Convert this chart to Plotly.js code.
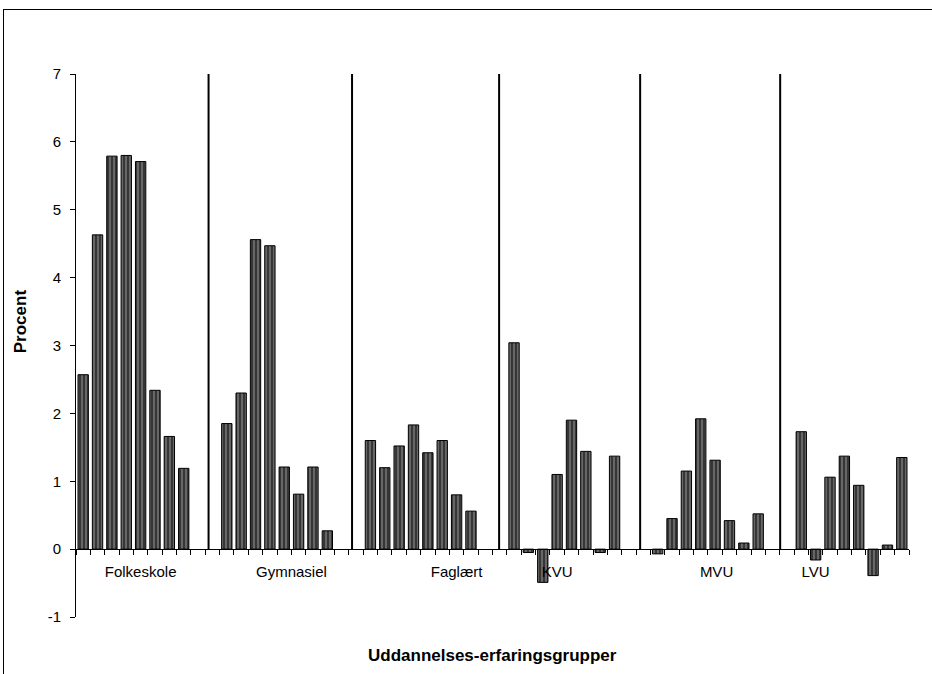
<!DOCTYPE html>
<html>
<head>
<meta charset="utf-8">
<script src="https://cdn.plot.ly/plotly-3.0.1.min.js"></script>
<style>
  html, body { margin: 0; padding: 0; background: #fff; }
  #wrap { position: relative; width: 932px; height: 674px; overflow: hidden; }
  #chart { position: absolute; left: 0; top: 0; width: 932px; height: 674px; }
  #frame { position: absolute; left: 3px; top: 9px; width: 1000px; height: 800px;
           border-top: 1px solid #000; border-left: 1px solid #000; pointer-events: none; }
</style>
</head>
<body>
<div id="wrap"><div id="chart"></div><div id="frame"></div></div>
<script>
// ---- data ----
const groups = ["Folkeskole", "Gymnasiel", "Faglært", "KVU", "MVU", "LVU"];
const folkeskole = [2.57, 4.63, 5.79, 5.80, 5.71, 2.34, 1.66, 1.19];
const gymnasiel  = [1.85, 2.30, 4.56, 4.47, 1.21, 0.81, 1.21, 0.27];
const faglaert   = [1.60, 1.20, 1.52, 1.83, 1.42, 1.60, 0.80, 0.56];
const kvu        = [3.04, -0.05, -0.49, 1.10, 1.90, 1.44, -0.05, 1.37];
const mvu        = [-0.07, 0.45, 1.15, 1.92, 1.31, 0.42, 0.09, 0.52];
const lvu        = [1.73, -0.16, 1.06, 1.37, 0.94, -0.39, 0.06, 1.35];
const yTicks = [-1, 0, 1, 2, 3, 4, 5, 6, 7];

// ---- layout constants ----
const seriesByGroup = [folkeskole, gymnasiel, faglaert, kvu, mvu, lvu];
const slotsPerGroup = 10;        // 8 bars + 2 empty slots
const labelOffsets = [4.0, 4.5, 6.0, 3.0, 4.1, 1.0];
const dividerOffsets = [-1.27, -1.28, -1.04, -1.22, -1.47];

const xs = [], ys = [];
seriesByGroup.forEach((vals, g) => {
  vals.forEach((v, j) => { xs.push(g * slotsPerGroup + j); ys.push(v); });
});
const nSlots = groups.length * slotsPerGroup - 2;

const dx = [], dy = [];
dividerOffsets.forEach((o, i) => {
  const x = (i + 1) * slotsPerGroup + o;
  dx.push(x, x, null); dy.push(0, 7, null);
});

const labelPos = groups.map((g, i) => i * slotsPerGroup + labelOffsets[i]);

const traces = [
  {
    type: 'bar', x: xs, y: ys, width: 0.72, xaxis: 'x', yaxis: 'y',
    marker: {
      color: '#363636',
      line: { color: '#000', width: 1 },
      pattern: { shape: '|', bgcolor: '#363636', fgcolor: '#7c7c7c', size: 4, solidity: 0.35 }
    },
    hoverinfo: 'x+y', showlegend: false
  },
  {
    type: 'scatter', mode: 'lines', x: dx, y: dy, xaxis: 'x', yaxis: 'y',
    line: { color: '#000', width: 2 }, hoverinfo: 'skip', showlegend: false
  },
  {
    type: 'scatter', mode: 'markers', x: [labelPos[0]], y: [0], xaxis: 'x2', yaxis: 'y',
    marker: { opacity: 0 }, hoverinfo: 'skip', showlegend: false
  }
];

const fam = 'Liberation Sans, Arial, sans-serif';
const tickFont = { family: fam, size: 15, color: '#000' };
const titleFont = { family: fam, size: 17, color: '#000' };
const zeroPos = (0 - (-1)) / (7 - (-1));

const layout = {
  width: 932, height: 674,
  margin: { l: 76, r: 23, t: 74, b: 57 },
  paper_bgcolor: '#fff', plot_bgcolor: '#fff',
  font: tickFont,
  bargap: 0,
  xaxis: {
    range: [-0.5, nSlots - 0.5], anchor: 'free', position: zeroPos,
    showgrid: false, zeroline: false, showline: true, linecolor: '#000', linewidth: 1,
    tickmode: 'linear', tick0: -0.5, dtick: 1, ticks: 'outside', ticklen: 5,
    tickcolor: '#000', tickwidth: 1, showticklabels: false, fixedrange: true
  },
  xaxis2: {
    overlaying: 'x', range: [-0.5, nSlots - 0.5], anchor: 'free', position: zeroPos,
    showgrid: false, zeroline: false, showline: false, ticks: '',
    tickmode: 'array', tickvals: labelPos, ticktext: groups,
    tickfont: tickFont, ticklabelstandoff: 12, fixedrange: true
  },
  yaxis: {
    range: [-1, 7], tickmode: 'array', tickvals: yTicks, ticktext: yTicks.map(String),
    showgrid: false, zeroline: false, showline: true, linecolor: '#000', linewidth: 1,
    ticks: 'outside', ticklen: 5, tickcolor: '#000', tickwidth: 1,
    tickfont: tickFont, ticklabelstandoff: 6, fixedrange: true
  },
  annotations: [
    { text: '<b>Procent</b>', xref: 'paper', yref: 'paper', x: -0.067, y: 0.545,
      xanchor: 'center', yanchor: 'middle', textangle: -90, showarrow: false,
      font: titleFont },
    { text: '<b>Uddannelses-erfaringsgrupper</b>', xref: 'paper', yref: 'paper',
      x: 0.5, y: -0.07, xanchor: 'center', yanchor: 'middle', showarrow: false,
      font: titleFont }
  ]
};

Plotly.newPlot('chart', traces, layout, { displayModeBar: false, staticPlot: true });
</script>
</body>
</html>
